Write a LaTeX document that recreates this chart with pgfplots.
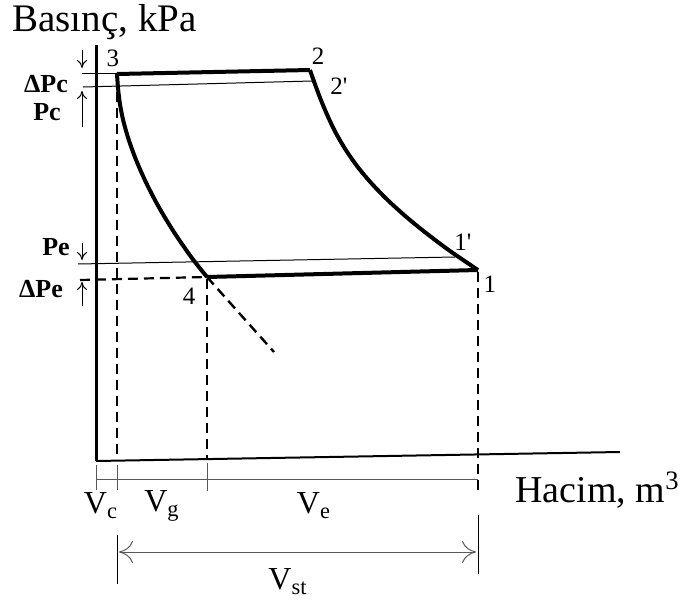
\documentclass[border=0pt]{standalone}
\usepackage{pgfplots}
\pgfplotsset{compat=1.18}
\usepackage{fontspec}
\setmainfont{Liberation Serif}
\usetikzlibrary{arrows.meta}
\begin{document}
\begin{tikzpicture}
\begin{axis}[
  width=341pt, height=296pt, scale only axis,
  xmin=0, xmax=682, ymin=0, ymax=592, y dir=reverse,
  axis lines=none, clip=false,
]
% frame of the drawing area
\path (axis cs:0,0) rectangle (axis cs:682,592);

% pressure and volume axes
\addplot[black, line width=1.5pt] coordinates {(96,45) (96,461)};
\addplot[black, line width=1pt] coordinates {(96,461) (620,452)};

% cycle: 3-2 discharge, 2-1 compression, 1-4 suction, 4-3 re-expansion
\addplot[black, line width=2pt] coordinates {(117,74) (310,70)};
\addplot[black, line width=2pt, smooth] coordinates {
  (310,70) (314,81.5) (320,97.7) (327,114.5) (335,131.4) (345,148.7) (357,166)
  (371,182.8) (387,199.4) (405,215.8) (425,232.2) (450,251) (478,270)};
\addplot[black, line width=2pt] coordinates {(207,277) (478,270)};
\addplot[black, line width=2pt, smooth] coordinates {
  (117,74) (118.2,90) (120.3,106) (123.6,122) (128.8,140) (136.1,160) (145.8,182)
  (158.2,206) (173.9,232) (191.9,258) (207,277)};
\addplot[black, line width=1.2pt, dash pattern=on 5pt off 3pt] coordinates {(207,277) (240,314) (274,352)};

% pressure levels
\addplot[black, line width=0.5pt] coordinates {(82,73) (117,73)};
\addplot[black, line width=0.5pt] coordinates {(83,87) (312,81)};
\addplot[black, line width=0.5pt] coordinates {(78,264) (455,257)};
\addplot[black, line width=1.1pt, dash pattern=on 5pt off 3pt] coordinates {(80,280) (207,277)};

% volume marks
\addplot[black, line width=1.2pt, dash pattern=on 5pt off 3pt] coordinates {(117,76) (117,460)};
\addplot[black, line width=1.2pt, dash pattern=on 5pt off 3pt] coordinates {(207,279) (207,460)};
\addplot[black, line width=0.8pt, dash pattern=on 5pt off 3pt] coordinates {(478,272) (478,490)};

% pressure arrows
\addplot[black, line width=0.5pt, -{To[length=4pt,width=5pt]}] coordinates {(82,50) (82,68)};
\addplot[black, line width=0.5pt, -{To[length=4pt,width=5pt]}] coordinates {(82,127) (82,91)};
\addplot[black, line width=0.5pt, -{To[length=4pt,width=5pt]}] coordinates {(82,243) (82,260)};
\addplot[black, line width=0.5pt, -{To[length=4pt,width=5pt]}] coordinates {(82,306) (82,282)};

% volume dimensions
\addplot[gray!70!black, line width=0.5pt] coordinates {(96,479) (478,479)};
\addplot[gray!70!black, line width=0.5pt] coordinates {(96,465) (96,490)};
\addplot[gray!70!black, line width=0.5pt] coordinates {(117,465) (117,490)};
\addplot[gray!70!black, line width=0.5pt] coordinates {(207,463) (207,491)};
\addplot[black, line width=0.5pt] coordinates {(117,535) (117,584)};
\addplot[black, line width=0.5pt] coordinates {(478,515) (478,574)};
\addplot[gray!70!black, line width=0.5pt, {To[length=7pt,width=11pt]}-{To[length=7pt,width=11pt]}] coordinates {(119,552) (476,552)};

% labels
\node[font=\fontsize{19.5}{22}\selectfont, inner sep=0pt, anchor=west] at (axis cs:12,22) {Basınç, kPa};
\node[font=\fontsize{19}{22}\selectfont, inner sep=0pt, anchor=east] at (axis cs:680,490) {Hacim, m\textsuperscript{3}};
\node[font=\fontsize{12.5}{14}\selectfont] at (axis cs:113,58) {3};
\node[font=\fontsize{12.5}{14}\selectfont] at (axis cs:318,56) {2};
\node[font=\fontsize{12.5}{14}\selectfont] at (axis cs:339,86) {2\textquotesingle};
\node[font=\fontsize{12.5}{14}\selectfont] at (axis cs:463,242) {1\textquotesingle};
\node[font=\fontsize{12.5}{14}\selectfont] at (axis cs:490,284) {1};
\node[font=\fontsize{12.5}{14}\selectfont] at (axis cs:189,296) {4};
\node[font=\bfseries\fontsize{13}{15}\selectfont] at (axis cs:46,84) {ΔPc};
\node[font=\bfseries\fontsize{13}{15}\selectfont] at (axis cs:47,112) {Pc};
\node[font=\bfseries\fontsize{13}{15}\selectfont] at (axis cs:56,247) {Pe};
\node[font=\bfseries\fontsize{13}{15}\selectfont] at (axis cs:41,289) {ΔPe};
\node[font=\fontsize{16}{18}\selectfont] at (axis cs:101,506) {V\textsubscript{c}};
\node[font=\fontsize{16}{18}\selectfont] at (axis cs:162,506) {V\textsubscript{g}};
\node[font=\fontsize{16}{18}\selectfont] at (axis cs:314,506) {V\textsubscript{e}};
\node[font=\fontsize{16}{18}\selectfont] at (axis cs:288,582) {V\textsubscript{st}};
\end{axis}
\end{tikzpicture}
\end{document}
